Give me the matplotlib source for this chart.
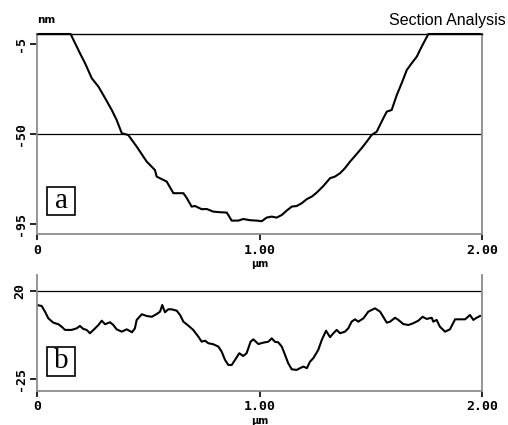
import matplotlib
matplotlib.use("Agg")
import matplotlib.pyplot as plt
from matplotlib.patches import Rectangle

# ---------------- data ----------------
# panel (a): section profile, x in µm, height in nm
xa = [0.000, 0.151, 0.193, 0.216, 0.246, 0.276, 0.298, 0.336, 0.358, 0.381,
      0.410, 0.448, 0.493, 0.530, 0.538, 0.583, 0.613, 0.658, 0.673, 0.695,
      0.710, 0.740, 0.763, 0.792, 0.822, 0.853, 0.875, 0.905, 0.927, 0.957,
      0.987, 1.010, 1.032, 1.055, 1.077, 1.100, 1.122, 1.145, 1.167, 1.190,
      1.212, 1.235, 1.257, 1.287, 1.317, 1.339, 1.362, 1.384, 1.407, 1.429,
      1.459, 1.482, 1.504, 1.527, 1.549, 1.572, 1.594, 1.617, 1.639, 1.662,
      1.684, 1.707, 1.729, 1.759, 2.000]
ya = [0.0, 0.0, -9.6, -14.6, -22.1, -26.3, -30.5, -38.0, -43.0, -49.6,
      -50.5, -56.3, -63.8, -68.0, -71.3, -73.8, -79.6, -79.6, -82.0, -86.3,
      -86.0, -87.6, -87.5, -88.8, -89.1, -89.3, -93.3, -93.3, -92.5, -93.1,
      -93.3, -93.6, -91.8, -91.3, -91.8, -90.5, -88.3, -86.3, -86.0, -84.6,
      -82.6, -81.3, -79.3, -76.0, -72.1, -71.3, -69.6, -67.1, -63.8, -61.0,
      -57.1, -53.8, -50.5, -48.8, -43.8, -38.8, -38.0, -30.5, -24.6, -18.0,
      -14.6, -11.3, -6.3, 0.0, 0.0]

# panel (b): section profile, x in µm, height in nm
xb = [0.000, 0.021, 0.036, 0.051, 0.073, 0.096, 0.111, 0.126, 0.156, 0.178,
      0.193, 0.208, 0.223, 0.238, 0.261, 0.276, 0.291, 0.306, 0.328, 0.343,
      0.358, 0.381, 0.403, 0.427, 0.440, 0.448, 0.471, 0.493, 0.516, 0.538,
      0.553, 0.563, 0.575, 0.590, 0.605, 0.628, 0.643, 0.658, 0.680, 0.702,
      0.725, 0.740, 0.755, 0.770, 0.792, 0.815, 0.830, 0.845, 0.860, 0.875,
      0.890, 0.909, 0.927, 0.942, 0.960, 0.972, 0.995, 1.017, 1.040, 1.055,
      1.070, 1.084, 1.100, 1.115, 1.129, 1.145, 1.167, 1.182, 1.197, 1.213,
      1.227, 1.242, 1.264, 1.280, 1.299, 1.317, 1.332, 1.347, 1.362, 1.384,
      1.399, 1.414, 1.429, 1.444, 1.467, 1.489, 1.519, 1.542, 1.556, 1.572,
      1.587, 1.609, 1.624, 1.646, 1.669, 1.691, 1.714, 1.733, 1.751, 1.774,
      1.781, 1.796, 1.811, 1.834, 1.856, 1.879, 1.901, 1.924, 1.946, 1.961,
      1.976, 1.991]
yb = [12.7, 12.2, 9.3, 5.9, 3.7, 2.9, 1.6, 0.0, 0.0, 0.8,
      2.0, 0.5, 0.0, -1.7, 0.8, 2.5, 4.7, 2.9, 3.9, 2.5,
      0.3, -0.9, 0.3, -1.2, 0.8, 5.1, 8.0, 7.1, 6.7, 8.1,
      9.3, 12.7, 9.0, 10.5, 10.5, 9.8, 7.6, 4.2, 2.2, 0.0,
      -3.4, -6.0, -5.5, -6.8, -7.3, -8.5, -11.1, -15.3, -17.9, -17.9,
      -15.3, -11.9, -13.3, -11.9, -6.0, -4.8, -7.2, -6.5, -6.0, -4.3,
      -6.1, -6.3, -8.5, -12.8, -17.0, -20.1, -20.4, -19.5, -18.7, -19.5,
      -16.2, -14.4, -10.2, -5.1, -0.4, -3.7, -1.7, 0.0, -1.7, -0.9,
      0.8, 4.2, 5.4, 4.2, 5.9, 9.3, 11.0, 9.3, 6.7, 3.7,
      4.2, 6.2, 5.1, 3.0, 2.5, 3.4, 4.7, 6.7, 5.6, 6.2,
      4.2, 5.1, 1.6, -0.9, 0.3, 5.4, 5.4, 5.4, 7.6, 5.1,
      6.2, 7.1]

ref_a = -50
ref_b = 20
xticks = [0, 1, 2]
xticklabels = ["0", "1.00", "2.00"]
yticks_a = [-5, -50, -95]
yticks_b = [20, -25]
ylim_a = (-100, 0)
ylim_b = (-31, 28)

# ---------------- figure ----------------
fig = plt.figure(figsize=(5.08, 4.25), dpi=100)
W, H = 508, 425

def px_axes(l, t, r, b):
    return fig.add_axes([l / W, 1 - b / H, (r - l) / W, (b - t) / H])

ax_a = px_axes(37, 34, 482, 234)
ax_b = px_axes(37, 275, 482, 390.7)

grey = "#8c8c8c"
tick_font = dict(family="DejaVu Sans Mono", weight="bold", size=9.5)

def style(ax, yticks, ylim, top_black):
    ax.set_xlim(0, 2)
    ax.set_ylim(*ylim)
    for s in ["left", "right", "bottom"]:
        ax.spines[s].set_color(grey)
        ax.spines[s].set_linewidth(1.3)
    if top_black:
        ax.spines["top"].set_color("black")
        ax.spines["top"].set_linewidth(1.0)
    else:
        ax.spines["top"].set_visible(False)
    ax.set_xticks(xticks)
    ax.set_xticklabels(xticklabels, fontdict=tick_font)
    ax.set_yticks(yticks)
    ax.set_yticklabels([str(v) for v in yticks], fontdict=tick_font,
                       rotation=90, va="center")
    ax.tick_params(axis="x", length=4.5, width=1.2, color="black", pad=2.5)
    ax.tick_params(axis="y", length=5, width=1.2, color="black", pad=2.5)
    ax.set_xlabel("µm", fontsize=7, fontweight="bold", labelpad=1.5)

style(ax_a, yticks_a, ylim_a, True)
style(ax_b, yticks_b, ylim_b, False)

ax_a.plot(xa, ya, color="black", lw=1.5, clip_on=False, solid_joinstyle="round")
ax_a.axhline(ref_a, color="black", lw=0.9)
ax_b.plot(xb, yb, color="black", lw=1.5, solid_joinstyle="round")
ax_b.axhline(ref_b, color="black", lw=0.9)

# panel letters in boxes
def letter(ax, txt, x0, y0, x1, y1):
    ax.add_patch(Rectangle((x0, y0), x1 - x0, y1 - y0, transform=ax.transAxes,
                           fill=False, edgecolor="black", lw=1.2))
    ax.text((x0 + x1) / 2, (y0 + y1) / 2, txt, transform=ax.transAxes,
            ha="center", va="center", fontsize=21, family="Liberation Serif")

letter(ax_a, "a", 0.0225, 0.095, 0.0854, 0.235)
letter(ax_b, "b", 0.0225, 0.127, 0.0854, 0.378)

fig.text(37 / W, 1 - 20 / H, "nm", fontsize=7.5, fontweight="bold",
         ha="left", va="center")
fig.text(506 / W, 1 - 20 / H, "Section Analysis", fontsize=11.5,
         family="Liberation Sans", ha="right", va="center")

fig.savefig("out.png", dpi=100)
